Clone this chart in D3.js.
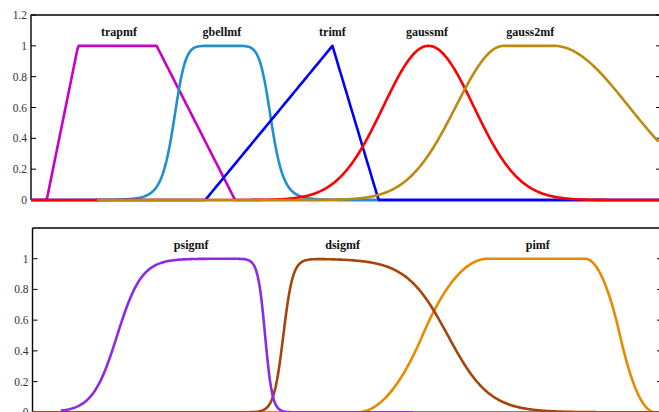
<!DOCTYPE html>
<html>
<head>
<meta charset="utf-8">
<script src="https://cdn.jsdelivr.net/npm/d3@7/dist/d3.min.js"></script>
<style>
    body { margin: 0; background: #ffffff; }
    svg { display: block; }
    .tick-label { font-family: "Liberation Serif", "Times New Roman", serif; font-size: 11.5px; fill: #333333; }
    .mf-title { font-family: "Liberation Serif", "Times New Roman", serif; font-size: 12px; font-weight: bold; fill: #111111; }
</style>
</head>
<body>
<svg id="chart" width="659" height="412"></svg>
<script>
// membership function parameters, x in chart units (0..20)
const topNames = ["trapmf", "gbellmf", "trimf", "gaussmf", "gauss2mf"];
const topColors = ["#c800c8", "#1e90d2", "#0000ff", "#ff0000", "#bc8a0e"];
const topParams = [
    [0.5, 1.5, 4.0, 6.5],        // trapmf a b c d
    [1.56, 4, 6.1],              // gbellmf a b c
    [5.55, 9.6, 11.07],          // trimf a b c
    [1.44, 12.66],               // gaussmf sigma c
    [1.53, 15.06, 2.39, 16.65]   // gauss2mf s1 c1 s2 c2
];
const topRanges = [[0, 20], [0, 20], [0, 20], [0, 20], [2.1, 20]];
const topLabelX = [2.8, 6.08, 9.6, 12.61, 15.9];

const botNames = ["pimf", "dsigmf", "psigmf"];
const botColors = ["#e88a00", "#a5450a", "#8a2be8"];
const botParams = [
    [10.35, 14.53, 17.62, 19.86],  // pimf a b c d
    [6.6, 8.0, 1.5, 13.25],        // dsigmf a1 c1 a2 c2
    [2.55, 2.70, -8.7, 7.42]       // psigmf a1 c1 a2 c2
];
const botRanges = [[0, 20], [0, 20], [0.9, 12.15]];
const botLabelX = [16.12, 9.89, 5.06];

const topTicks = [0, 0.2, 0.4, 0.6, 0.8, 1, 1.2];
const botTicks = [0, 0.2, 0.4, 0.6, 0.8, 1];

const sig = (a, c, x) => 1 / (1 + Math.exp(-a * (x - c)));
const smf = (a, b, x) => {
    if (x <= a) return 0;
    if (x >= b) return 1;
    const m = (a + b) / 2;
    if (x <= m) return 2 * ((x - a) / (b - a)) ** 2;
    return 1 - 2 * ((x - b) / (b - a)) ** 2;
};

const mf = {
    trapmf: (p, x) => Math.max(0, Math.min((x - p[0]) / (p[1] - p[0]), 1, (p[3] - x) / (p[3] - p[2]))),
    gbellmf: (p, x) => 1 / (1 + Math.abs((x - p[2]) / p[0]) ** (2 * p[1])),
    trimf: (p, x) => Math.max(0, Math.min((x - p[0]) / (p[1] - p[0]), (p[2] - x) / (p[2] - p[1]))),
    gaussmf: (p, x) => Math.exp(-((x - p[1]) ** 2) / (2 * p[0] ** 2)),
    gauss2mf: (p, x) => {
        const l = x < p[1] ? Math.exp(-((x - p[1]) ** 2) / (2 * p[0] ** 2)) : 1;
        const r = x > p[3] ? Math.exp(-((x - p[3]) ** 2) / (2 * p[2] ** 2)) : 1;
        return l * r;
    },
    pimf: (p, x) => smf(p[0], p[1], x) * (1 - smf(p[2], p[3], x)),
    dsigmf: (p, x) => Math.max(0, sig(p[0], p[1], x) - sig(p[2], p[3], x)),
    psigmf: (p, x) => sig(p[0], p[1], x) * sig(p[2], p[3], x)
};

const svg = d3.select("#chart");

function drawPanel(cfg) {
    const x = d3.scaleLinear().domain([0, 20]).range([cfg.left, cfg.right]);
    const y = d3.scaleLinear().domain([0, 1.2]).range([cfg.bottom, cfg.top]);
    const g = svg.append("g");

    // frame
    g.append("line").attr("x1", cfg.left).attr("x2", cfg.frameRight)
        .attr("y1", cfg.top).attr("y2", cfg.top)
        .attr("stroke", "#000").attr("stroke-width", 1.6);
    g.append("line").attr("x1", cfg.left).attr("x2", cfg.left)
        .attr("y1", cfg.top).attr("y2", cfg.bottom)
        .attr("stroke", "#000").attr("stroke-width", 1.4);
    g.append("line").attr("x1", cfg.left).attr("x2", cfg.frameRight)
        .attr("y1", cfg.bottom).attr("y2", cfg.bottom)
        .attr("stroke", "#000").attr("stroke-width", 1.4);

    // ticks left and right
    cfg.ticks.forEach(t => {
        g.append("line").attr("x1", cfg.left).attr("x2", cfg.left + 5)
            .attr("y1", y(t)).attr("y2", y(t))
            .attr("stroke", "#000").attr("stroke-width", 1);
        g.append("line").attr("x1", cfg.frameRight - 5).attr("x2", cfg.frameRight)
            .attr("y1", y(t)).attr("y2", y(t))
            .attr("stroke", "#000").attr("stroke-width", 1);
        g.append("text").attr("class", "tick-label")
            .attr("x", cfg.left - 4).attr("y", y(t) + 4)
            .attr("text-anchor", "end")
            .text(t);
    });

    const line = d3.line().x(d => x(d[0])).y(d => y(d[1]));

    cfg.names.forEach((name, i) => {
        const [x0, x1] = cfg.ranges[i];
        const pts = d3.range(x0, x1 + 1e-9, 0.04).map(v => [v, mf[name](cfg.params[i], v)]);
        g.append("path")
            .attr("d", line(pts))
            .attr("fill", "none")
            .attr("stroke", cfg.colors[i])
            .attr("stroke-width", 2.6)
            .attr("stroke-linejoin", "round");
    });

    cfg.names.forEach((name, i) => {
        g.append("text").attr("class", "mf-title")
            .attr("x", x(cfg.labelX[i]))
            .attr("y", cfg.titleY)
            .attr("text-anchor", "middle")
            .text(name);
    });
}

drawPanel({
    left: 31, right: 659, frameRight: 661, top: 15, bottom: 200, titleY: 36,
    ticks: topTicks, names: topNames, colors: topColors, params: topParams,
    ranges: topRanges, labelX: topLabelX
});

drawPanel({
    left: 32.5, right: 659.5, frameRight: 662, top: 228, bottom: 412.3, titleY: 249,
    ticks: botTicks, names: botNames, colors: botColors, params: botParams,
    ranges: botRanges, labelX: botLabelX
});
</script>
</body>
</html>
